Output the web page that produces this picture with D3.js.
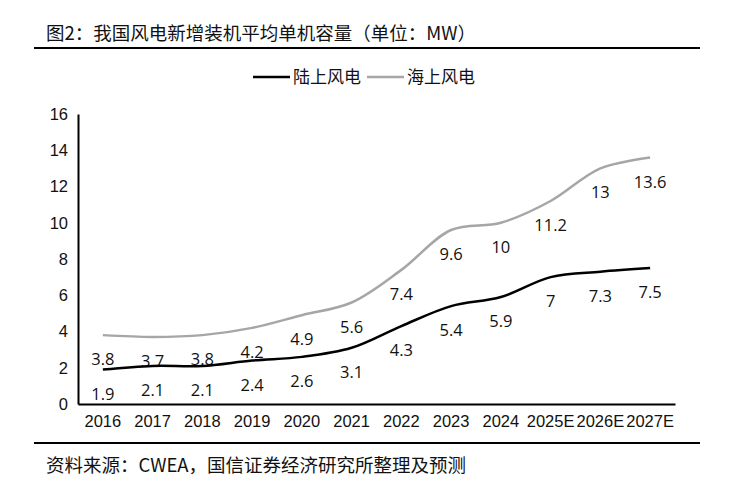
<!DOCTYPE html>
<html>
<head>
<meta charset="utf-8">
<script src="https://cdn.jsdelivr.net/npm/d3@7"></script>
<style>
    body { margin: 0; background: #fff; }
    svg { display: block; font-family: 'Open Sans', 'Noto Sans CJK SC', sans-serif; }
</style>
</head>
<body>
<svg id="chart" width="744" height="479"></svg>
<script>
const years = ['2016', '2017', '2018', '2019', '2020', '2021', '2022', '2023', '2024', '2025E', '2026E', '2027E'];
const onshore = [1.9, 2.1, 2.1, 2.4, 2.6, 3.1, 4.3, 5.4, 5.9, 7, 7.3, 7.5];
const offshore = [3.8, 3.7, 3.8, 4.2, 4.9, 5.6, 7.4, 9.6, 10, 11.2, 13, 13.6];
const yTicks = [0, 2, 4, 6, 8, 10, 12, 14, 16];
const seriesNames = ['陆上风电', '海上风电'];

const svg = d3.select('#chart');
const cjk = "'Noto Sans CJK SC', sans-serif";

// title + rules
svg.append('text')
    .attr('x', 46).attr('y', 40)
    .attr('font-family', cjk).attr('font-size', 18.5).attr('fill', '#111')
    .text('图2：我国风电新增装机平均单机容量（单位：MW）');
svg.append('line').attr('x1', 34).attr('x2', 700).attr('y1', 48).attr('y2', 48)
    .attr('stroke', '#000').attr('stroke-width', 2);
svg.append('line').attr('x1', 34).attr('x2', 700).attr('y1', 443).attr('y2', 443)
    .attr('stroke', '#000').attr('stroke-width', 2);
svg.append('text')
    .attr('x', 46).attr('y', 472)
    .attr('font-family', cjk).attr('font-size', 18.5).attr('fill', '#111')
    .text('资料来源：CWEA，国信证券经济研究所整理及预测');

const x = d3.scaleBand().domain(years).range([78, 675]);
const y = d3.scaleLinear().domain([0, 16]).range([404, 114]);
const cx = d => x(d) + x.bandwidth() / 2;

const series = [
    { name: seriesNames[0], values: onshore, color: '#000000' },
    { name: seriesNames[1], values: offshore, color: '#A6A6A6' }
];

// axes
const yAxis = svg.append('g')
    .attr('transform', 'translate(78,0)')
    .call(d3.axisLeft(y).tickValues(yTicks).tickSize(0).tickPadding(10));
const xAxis = svg.append('g')
    .attr('transform', 'translate(0,404)')
    .call(d3.axisBottom(x).tickSize(0).tickPadding(11));
[yAxis, xAxis].forEach(a => {
    a.select('.domain').attr('stroke', '#000').attr('stroke-width', 2);
    a.selectAll('text').attr('font-size', 16.5).attr('fill', '#111');
});

const line = d3.line()
    .x((d, i) => cx(years[i]))
    .y(d => y(d))
    .curve(d3.curveCatmullRom.alpha(0.5));

// offshore drawn first so onshore stays on top
[series[1], series[0]].forEach(s => {
    svg.append('path')
        .datum(s.values)
        .attr('d', line)
        .attr('fill', 'none')
        .attr('stroke', s.color)
        .attr('stroke-width', 2.5);
    svg.append('g')
        .selectAll('text')
        .data(s.values)
        .enter()
        .append('text')
        .attr('x', (d, i) => cx(years[i]))
        .attr('y', d => y(d) + 30)
        .attr('text-anchor', 'middle')
        .attr('font-size', 16.5)
        .attr('fill', '#111')
        .text(d => d);
});

// legend
const legend = svg.append('g').attr('transform', 'translate(253,77)');
const legX = [0, 114];
series.forEach((s, i) => {
    const g = legend.append('g').attr('transform', `translate(${legX[i]},0)`);
    g.append('line').attr('x1', 0).attr('x2', 37).attr('y1', 0).attr('y2', 0)
        .attr('stroke', s.color).attr('stroke-width', 2.5);
    g.append('text').attr('x', 40).attr('y', 6)
        .attr('font-family', cjk).attr('font-size', 17).attr('fill', '#111')
        .text(s.name);
});
</script>
</body>
</html>
